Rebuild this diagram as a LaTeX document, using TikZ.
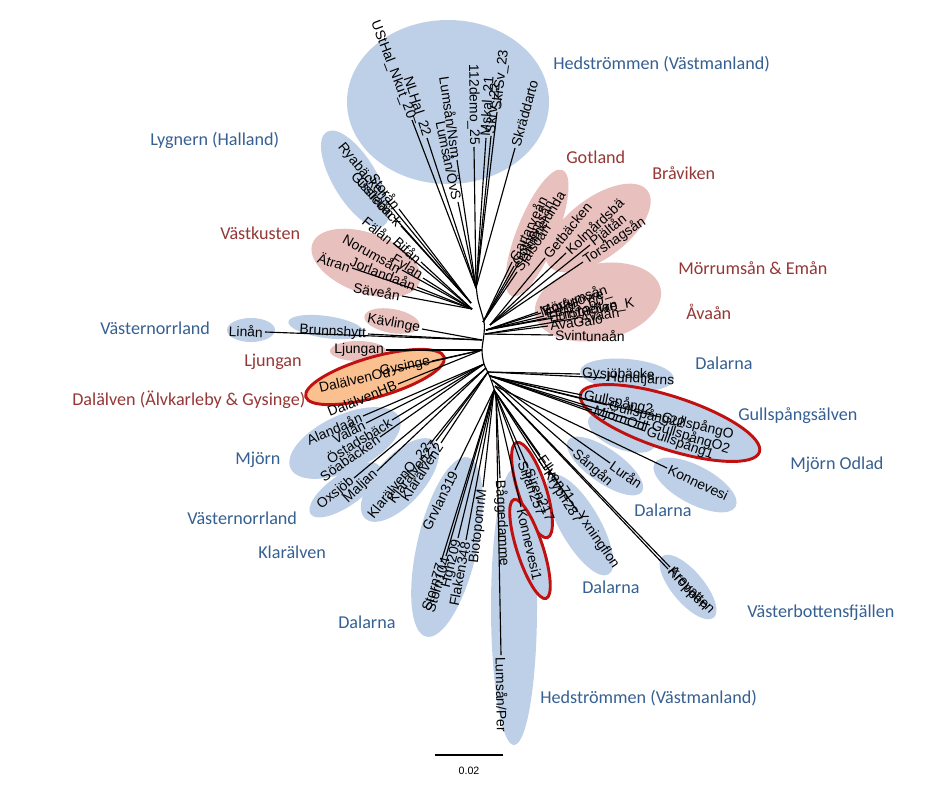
\documentclass[tikz,border=0pt]{standalone}
\usepackage{fontspec}
\setmainfont{Liberation Sans}
\newfontfamily\calfont{Carlito}
\definecolor{blueF}{RGB}{190,208,231}
\definecolor{pinkF}{RGB}{232,192,190}
\definecolor{orangeF}{RGB}{250,192,144}
\definecolor{redB}{RGB}{192,16,16}
\definecolor{blueT}{RGB}{54,96,146}
\definecolor{redT}{RGB}{149,55,53}
\newcommand{\leaf}[5]{%
  \coordinate (#1) at (#3);
  \draw[branch] (#2) -- (#1) node[leaflab,sloped,pos=1,anchor=#4] (#1l) {#5};}
\newcommand{\blob}[6]{% fillstyle, cx, cy, rx, ry, rot
  \path[#1,rotate around={#6:(#2,#3)}] (#2,#3) ellipse [x radius=#4, y radius=#5];}
\begin{document}
\begin{tikzpicture}[x=0.75pt,y=-0.75pt,
  branch/.style={line width=0.85pt,black},
  leaflab/.style={font=\fontsize{10.4}{12}\selectfont,inner sep=1.2pt,text=black},
  bluereg/.style={font=\calfont\fontsize{13.6}{16}\selectfont,text=blueT,anchor=west,inner sep=0pt},
  redreg/.style={font=\calfont\fontsize{13.6}{16}\selectfont,text=redT,anchor=west,inner sep=0pt},
  bfill/.style={fill=blueF},
  pfill/.style={fill=pinkF},
  rring/.style={fill=blueF,draw=redB,line width=2.2pt},
  oring/.style={fill=orangeF,draw=redB,line width=2.2pt}]
\fill[white] (0,0) rectangle (944,795);
\useasboundingbox (0,0) rectangle (944,795);
% ---- clade shading
\blob{bfill}{448}{102}{101}{82}{0}
\blob{bfill}{355}{179}{22}{55}{31}
\blob{pfill}{366}{263}{57}{30}{-20}
\blob{pfill}{537}{233}{20}{68}{-22}
\blob{pfill}{598}{228}{62}{30}{37}
\blob{pfill}{598}{302}{64}{38}{12}
\blob{pfill}{392}{321}{28}{12}{-10}
\blob{bfill}{326}{327}{38}{11}{-8}
\blob{bfill}{251}{330}{24}{12}{0}
\blob{pfill}{358}{351}{28}{10}{0}
\blob{oring}{375}{377}{72}{20}{16}
\blob{bfill}{345}{443}{60}{28}{25}
\blob{bfill}{345}{490}{42}{16}{35}
\blob{bfill}{400}{480}{52}{24}{48}
\blob{bfill}{447}{547}{30}{92}{-13}
\blob{bfill}{514}{607}{23}{138}{0}
\blob{bfill}{580}{525}{20}{57}{30}
\blob{rring}{532}{490}{14}{50}{18}
\blob{rring}{530}{549}{13}{52}{18}
\blob{bfill}{627}{375}{47}{16}{-5}
\blob{bfill}{622}{432}{36}{17}{-22}
\blob{rring}{670}{423}{94}{26.5}{-18}
\blob{bfill}{605}{466}{45}{17}{-35}
\blob{bfill}{695}{485}{46}{19}{-28}
\blob{bfill}{688}{587}{40}{16}{-50}
% ---- internal nodes
\coordinate (nTop) at (476,288);
\coordinate (nLyg) at (471,303);
\coordinate (nVk) at (472,309);
\coordinate (nGot) at (483,322);
\coordinate (nBra) at (490,325);
\coordinate (nMor) at (486,330);
\coordinate (nSv) at (485,334);
\coordinate (nKav) at (482,340);
\coordinate (nDal) at (482,350);
\coordinate (nMj) at (484,364);
\coordinate (nOx) at (486,368);
\coordinate (nKl) at (488,372);
\coordinate (nGy) at (488,372);
\coordinate (nGu) at (490,376);
\coordinate (nSa) at (492,380);
\coordinate (nKo) at (495,386);
\coordinate (nB) at (494,390);
\coordinate (nBot) at (496,395);
\draw[branch] plot[smooth] coordinates {(476,285) (478,300) (484,322) (484,334) (482,350) (484,364) (490,377) (496,395)};
% ---- Hedstrommen top
\leaf{t1}{nTop}{412,120}{east}{UStHal\_Nkut\_20}
\leaf{t2}{nTop}{427,138}{east}{NLHal\_22}
\leaf{t3}{nTop}{457,160}{east}{Lumsån/Nsm}
\leaf{t4}{nTop}{458,202}{east}{Lumsån/ÖvS}
\leaf{t5}{nTop}{474,147}{east}{112demo\_25}
\leaf{t6}{nTop}{486,138}{west}{Mskal\_21}
\leaf{t7}{nTop}{491,136}{west}{Skrv\_22}
\leaf{t8}{nTop}{497,112}{west}{SkrSv\_23}
\leaf{t9}{nTop}{515,148}{west}{Skräddarto}
% ---- Lygnern
\leaf{l1}{nLyg}{386,200}{east}{Ryabäcken}
\leaf{l2}{nLyg}{399,209}{east}{Storån}
\leaf{l3}{nLyg}{394,217}{east}{Ostraån}
\leaf{l4}{nLyg}{401,226}{east}{Gisslebäck}
% ---- Vastkusten
\leaf{v1}{nVk}{393,243}{east}{Fälån}
\leaf{v2}{nVk}{421,262}{east}{Bifån}
\leaf{v3}{nVk}{423,278}{east}{Fylan}
\leaf{v4}{nVk}{402,270}{east}{Norumsån}
\leaf{v5}{nVk}{417,287}{east}{Jorlandaån}
\leaf{v6}{nVk}{352,268}{east}{Ätran}
\leaf{v7}{nVk}{402,296}{east}{Säveån}
% ---- left middle
\leaf{k1}{nKav}{422,329}{east}{Kävlinge}
\leaf{k2}{nKav}{368,334}{east}{Brunnshytt}
\leaf{k3}{nKav}{265,332}{east}{Linån}
\leaf{k4}{nDal}{386,350}{east}{Ljungan}
\leaf{d1}{nDal}{432,361}{east}{Gysinge}
\leaf{d2}{nDal}{392,371}{east}{DalälvenOd}
\leaf{d3}{nDal}{398,384}{east}{DalälvenHB}
% ---- Mjorn, Vasternorrland, Klaralven
\leaf{m1}{nMj}{363,416}{east}{Alandaån}
\leaf{m2}{nMj}{366,423}{east}{Valån}
\leaf{m3}{nMj}{392,420}{east}{Östadsbäck}
\leaf{m4}{nMj}{380,437}{east}{Söabäcken}
\leaf{o1}{nOx}{354,478}{east}{Oxsjöb}
\leaf{o2}{nOx}{377,471}{east}{Maljan}
\leaf{c1}{nKl}{430,444}{east}{KlarälvenO\_22}
\leaf{c2}{nKl}{436,441}{east}{Klarälven27}
\leaf{c3}{nKl}{441,443}{east}{Klarälven2}
% ---- Dalarna bottom left
\leaf{g1}{nB}{455,470}{east}{Grvlan319}
\leaf{g2}{nB}{483,487}{east}{BiotopomrM}
\leaf{g3}{nB}{466,540}{east}{Flaken348}
\leaf{g4}{nB}{458,538}{east}{Hgh209}
\leaf{g5}{nB}{441,562}{east}{Storn77}
\leaf{g6}{nB}{446,556}{east}{Storn104}
% ---- bottom
\leaf{b1}{nBot}{500,478}{west}{Båggedamme}
\leaf{b2}{nBot}{501,655}{west}{Lumsån/Per}
\leaf{s1}{nB}{520,460}{west}{Siljan257}
\leaf{s2}{nB}{528,468}{west}{Siren217}
\leaf{s3}{nB}{540,455}{west}{Ellven71}
\leaf{s4}{nB}{545,470}{west}{Krypn287}
\leaf{s5}{nB}{578,512}{west}{Yxningflon}
\leaf{s6}{nB}{521,507}{west}{Konnevesi1}
% ---- right lower
\leaf{r1}{nGy}{580,374}{west}{Gysjöbäcke}
\leaf{r2}{nGy}{605,378}{west}{Hundtjärns}
\leaf{r3}{nGu}{582,395}{west}{Gullspång2}
\leaf{r4}{nGu}{607,405}{west}{Gullspång22}
\leaf{r5}{nGu}{660,417}{west}{GullspångO}
\leaf{r6}{nGu}{650,425}{west}{GullspångO2}
\leaf{r7}{nGu}{645,431}{west}{Gullspång1}
\leaf{r8}{nGu}{592,410}{west}{MjörnOdl}
\leaf{r9}{nSa}{573,451}{west}{Sångån}
\leaf{r10}{nSa}{610,463}{west}{Lurån}
\leaf{r11}{nKo}{667,468}{west}{Konnevesi}
\leaf{r12}{nKo}{670,567}{west}{Arevatten}
\leaf{r13}{nKo}{668,569}{west}{Kroppen}
% ---- right upper
\leaf{u1}{nGot}{512,262}{west}{Gartarveån}
\leaf{u2}{nGot}{514,266}{west}{Gothemsån}
\leaf{u3}{nGot}{519,263}{west}{Lummelunda}
\leaf{u4}{nGot}{517,272}{west}{Själsöån}
\leaf{w1}{nBra}{545,258}{west}{Getbäcken}
\leaf{w2}{nBra}{566,253}{west}{Kolmårdsbä}
\leaf{w3}{nBra}{590,245}{west}{Pjältån}
\leaf{w4}{nBra}{583,262}{west}{Torshagsån}
\leaf{e1}{nMor}{538,312}{west}{Mörrumsån}
\leaf{e2}{nMor}{541,313}{west}{Emånövre\_}
\leaf{e3}{nMor}{544,316}{west}{Em05\_60}
\leaf{e4}{nMor}{547,318}{west}{Em5mellan}
\leaf{e5}{nMor}{553,318}{west}{Em13övre\_K}
\leaf{a1}{nSv}{578,318}{west}{Åvaån}
\leaf{a2}{nSv}{548,326}{west}{AvaGalö}
\leaf{a3}{nSv}{553,335}{west}{Svintunaån}
% ---- region labels
\node[bluereg] (h1) at (553,64) {Hedströmmen (Västmanland)};
\node[bluereg] (h2) at (150,140) {Lygnern (Halland)};
\node[redreg] (h3) at (566,157) {Gotland};
\node[redreg] (h4) at (652,173) {Bråviken};
\node[redreg] (h5) at (220,233) {Västkusten};
\node[redreg] (h6) at (678,268) {Mörrumsån \& Emån};
\node[redreg] (h7) at (686,312) {Åvaån};
\node[bluereg] (h8) at (100,328) {Västernorrland};
\node[redreg] (h9) at (244,362) {Ljungan};
\node[bluereg] (h10) at (695,363) {Dalarna};
\node[redreg] (h11) at (72,400) {Dalälven (Älvkarleby \& Gysinge)};
\node[bluereg] (h12) at (738,416) {Gullspångsälven};
\node[bluereg] (h13) at (235,460) {Mjörn};
\node[bluereg] (h14) at (790,465) {Mjörn Odlad};
\node[bluereg] (h15) at (634,510) {Dalarna};
\node[bluereg] (h16) at (187,518) {Västernorrland};
\node[bluereg] (h17) at (258,552) {Klarälven};
\node[bluereg] (h18) at (582,587) {Dalarna};
\node[bluereg] (h19) at (747,613) {Västerbottensfjällen};
\node[bluereg] (h20) at (338,622) {Dalarna};
\node[bluereg] (h21) at (540,698) {Hedströmmen (Västmanland)};
% ---- scale bar
\coordinate (sb1) at (435,755);
\coordinate (sb2) at (503,755);
\draw[line width=0.8pt] (sb1) -- (sb2);
\node[font=\fontsize{8}{9}\selectfont,inner sep=0pt] (sbl) at (469,771) {0.02};
\end{tikzpicture}
\end{document}
